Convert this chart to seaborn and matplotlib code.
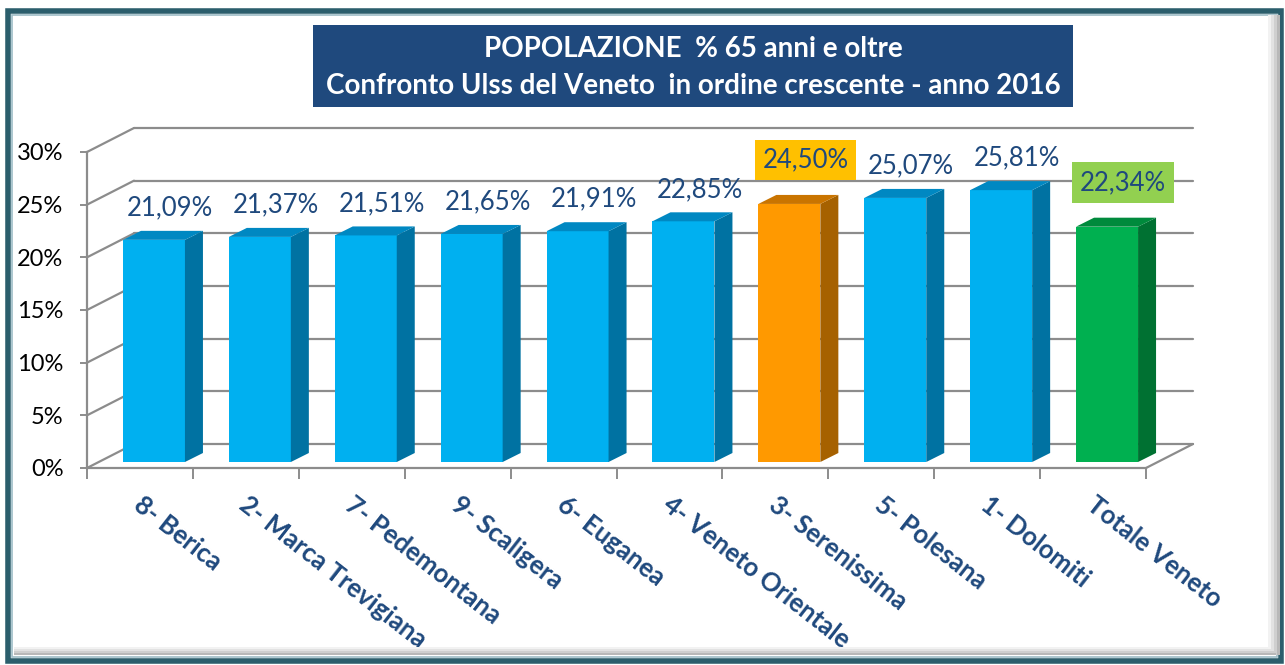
import matplotlib
matplotlib.use("Agg")
import matplotlib.pyplot as plt
import numpy as np
import pandas as pd
import seaborn as sns
from matplotlib.patches import Polygon, Rectangle

# data
ulss = [
    "8- Berica", "2- Marca Trevigiana", "7- Pedemontana", "9- Scaligera",
    "6- Euganea", "4- Veneto Orientale", "3- Serenissima", "5- Polesana",
    "1- Dolomiti", "Totale Veneto",
]
pct = [21.09, 21.37, 21.51, 21.65, 21.91, 22.85, 24.50, 25.07, 25.81, 22.34]
kind = ["ulss"] * 6 + ["serenissima"] + ["ulss"] * 2 + ["totale"]
yticks = [0, 5, 10, 15, 20, 25, 30]
title_1 = "POPOLAZIONE  % 65 anni e oltre"
title_2 = "Confronto Ulss del Veneto  in ordine crescente - anno 2016"

front_col = {"ulss": "#00B0F0", "serenissima": "#FF9900", "totale": "#00B050"}
side_col = {"ulss": "#0072A2", "serenissima": "#A66100", "totale": "#007132"}
top_col = {"ulss": "#0088C2", "serenissima": "#C97400", "totale": "#008A3C"}
label_box = {"serenissima": "#FFC000", "totale": "#92D050"}
navy = "#1F497D"
grid = "#8C8C8C"

sns.set_theme(style="white")
plt.rcParams["font.family"] = ["Lato", "DejaVu Sans"]

W, H = 1285, 665
fig = plt.figure(figsize=(W / 100, H / 100), dpi=100, facecolor="white")

# frame round the whole picture
fig.patches.append(Rectangle((8 / W, 1 - 661 / H), 1273 / W, 650 / H, transform=fig.transFigure,
                             fill=False, ec="#2B5E6C", lw=4))
fig.patches.append(Rectangle((12 / W, 1 - 657 / H), 1265 / W, 642 / H, transform=fig.transFigure,
                             fill=False, ec="#9DBCC6", lw=1.2))
for k, g in enumerate(["#F2F2F2", "#E2E2E2", "#CFCFCF", "#B8B8B8"]):
    fig.patches.append(Rectangle(((1268 + 3 * k) / W, 1 - 655 / H), 3 / W, 640 / H,
                                 transform=fig.transFigure, color=g, lw=0))
    fig.patches.append(Rectangle((14 / W, 1 - (649 + 2 * k) / H), 1262 / W, 2 / H,
                                 transform=fig.transFigure, color=g, lw=0))

ax = fig.add_axes([87 / W, 1 - 468 / H, (1146 - 87) / W, (468 - 152) / H])
ax.set_xlim(-0.5, 9.5)
ax.set_ylim(0, 30)

cat_px = (1146 - 87) / 10
pct_px = (468 - 152) / 30
back = (47 / cat_px, 24 / pct_px)
shift = (14 / cat_px, 6 / pct_px)
depth = (18 / cat_px, 9 / pct_px)
bar_w = 62 / cat_px

# back wall, left wall and floor edges
for t in yticks:
    ax.plot([-0.5 + back[0], 9.5 + back[0]], [t + back[1]] * 2, color=grid, lw=1.6,
            zorder=0, clip_on=False)
    ax.plot([-0.5, -0.5 + back[0]], [t, t + back[1]], color=grid, lw=1.6, zorder=0, clip_on=False)
ax.plot([9.5, 9.5 + back[0]], [0, back[1]], color=grid, lw=1.6, zorder=0, clip_on=False)

df = pd.DataFrame({"ulss": ulss, "pct": pct, "kind": kind})
sns.barplot(data=df, x="ulss", y="pct", hue="kind", palette=front_col, dodge=False,
            width=bar_w, saturation=1, legend=False, ax=ax, zorder=3)

for p in list(ax.patches):
    i = int(round(p.get_x() + p.get_width() / 2))
    h = p.get_height()
    k = kind[i]
    x0 = p.get_x() + shift[0]
    x1 = x0 + p.get_width()
    y0, y1 = shift[1], shift[1] + h
    p.set_x(x0)
    p.set_y(y0)
    p.set_linewidth(0)
    p.set_clip_on(False)
    ax.add_patch(Polygon([(x1, y0), (x1 + depth[0], y0 + depth[1]), (x1 + depth[0], y1 + depth[1]), (x1, y1)],
                         closed=True, color=side_col[k], lw=0, zorder=3, clip_on=False))
    ax.add_patch(Polygon([(x0, y1), (x1, y1), (x1 + depth[0], y1 + depth[1]), (x0 + depth[0], y1 + depth[1])],
                         closed=True, color=top_col[k], lw=0, zorder=3, clip_on=False))

# value labels
for i, v in enumerate(pct):
    txt = f"{v:.2f}%".replace(".", ",")
    box = None
    up = 32
    if kind[i] in label_box:
        box = dict(boxstyle="square,pad=0.3", fc=label_box[kind[i]], ec="none")
        up = 44
    ax.annotate(txt, xy=(i + shift[0], v + shift[1]), xytext=(16, up), textcoords="offset pixels",
                ha="center", va="center", fontsize=18.5, color=navy, bbox=box, zorder=5,
                annotation_clip=False)

# category labels
for i, name in enumerate(ulss):
    ax.annotate(name, xy=(i, 0), xytext=(4, -24), textcoords="offset pixels", rotation=-38,
                rotation_mode="anchor", ha="left", va="top", fontsize=18.5, fontweight="bold",
                color=navy, annotation_clip=False)

ax.set_xticks(np.arange(-0.5, 10, 1), [""] * 11)
ax.set_yticks(yticks, [f"{t}%" for t in yticks])
ax.set_xlabel("")
ax.set_ylabel("")
ax.tick_params(axis="x", length=8, width=1.4, color=grid, direction="out", bottom=True)
ax.tick_params(axis="y", length=5, width=1.4, color=grid, direction="out", left=True,
               labelsize=17, labelcolor="black", pad=12)
for s in ["top", "right"]:
    ax.spines[s].set_visible(False)
for s in ["left", "bottom"]:
    ax.spines[s].set_color(grid)
    ax.spines[s].set_linewidth(1.6)
ax.patch.set_alpha(0)

# title box
fig.patches.append(Rectangle((313 / W, 1 - 107 / H), 760 / W, 82 / H, transform=fig.transFigure,
                             color="#1F497D", lw=0))
fig.text(693 / W, 1 - 49 / H, title_1, ha="center", va="center", color="white",
         fontsize=20, fontweight="bold")
fig.text(693 / W, 1 - 86 / H, title_2, ha="center", va="center", color="white",
         fontsize=20, fontweight="bold")

fig.savefig("out.png", dpi=100, facecolor="white")
